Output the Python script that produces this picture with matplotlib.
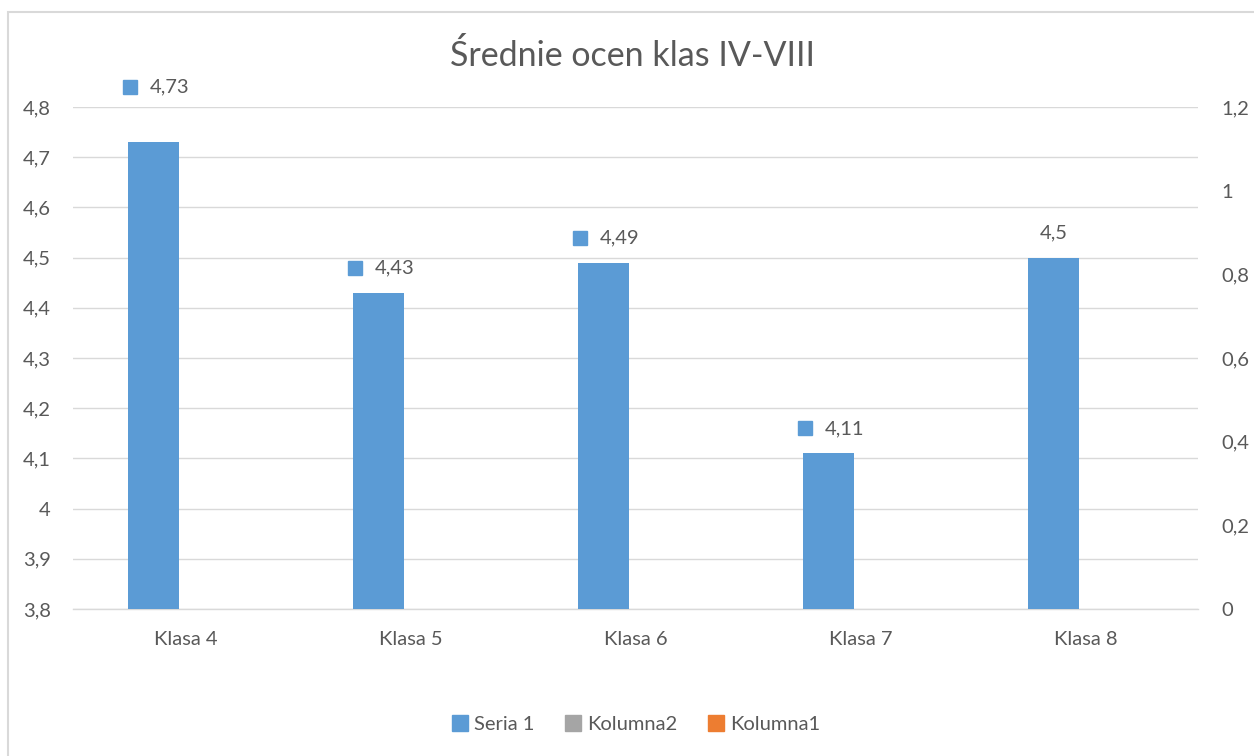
import matplotlib.pyplot as plt
from matplotlib.patches import Patch, Rectangle
from matplotlib.ticker import FuncFormatter, MultipleLocator
from matplotlib.transforms import offset_copy

plt.rcParams['font.family'] = ['Lato', 'DejaVu Sans']

# data
categories = ['Klasa 4', 'Klasa 5', 'Klasa 6', 'Klasa 7', 'Klasa 8']
seria1 = [4.73, 4.43, 4.49, 4.11, 4.5]
legend_names = ['Seria 1', 'Kolumna2', 'Kolumna1']

# label styling (lift above the bar in pixels, and whether a key square is shown)
label_lift = [55, 25, 25, 25, 25]
label_key = [True, True, True, True, False]

BLUE = '#5B9BD5'
GRAY = '#A5A5A5'
ORANGE = '#ED7D31'
TEXT = '#595959'
GRID = '#D9D9D9'
FS = 14.5

W, H = 1254, 756
fig = plt.figure(figsize=(W / 100, H / 100), dpi=100)
ax = fig.add_axes([73 / W, (H - 609) / H, (1198 - 73) / W, (609 - 107) / H])

x = list(range(len(categories)))
shift = -0.142
bw = 0.227
ax.bar([i + shift for i in x], seria1, width=bw, color=BLUE, zorder=3)

ax.set_xlim(-0.5, len(categories) - 0.5)
ax.set_ylim(3.8, 4.8)
ax.yaxis.set_major_locator(MultipleLocator(0.1))
fmt = FuncFormatter(lambda v, p: f"{round(v, 2):g}".replace('.', ','))
ax.yaxis.set_major_formatter(fmt)
ax.set_xticks(x)
ax.set_xticklabels(categories)
ax.grid(axis='y', color=GRID, lw=1.0, zorder=0)
for s in ['top', 'left', 'right']:
    ax.spines[s].set_visible(False)
ax.spines['bottom'].set_color(GRID)
ax.spines['bottom'].set_linewidth(1.0)
ax.tick_params(axis='y', length=0, pad=16, labelsize=FS, labelcolor=TEXT)
ax.tick_params(axis='x', length=0, pad=16, labelsize=FS, labelcolor=TEXT)

ax2 = ax.twinx()
ax2.set_ylim(0, 1.2)
ax2.yaxis.set_major_locator(MultipleLocator(0.2))
ax2.yaxis.set_major_formatter(fmt)
for s in ['top', 'left', 'right', 'bottom']:
    ax2.spines[s].set_visible(False)
ax2.tick_params(axis='y', length=0, pad=17, labelsize=FS, labelcolor=TEXT)

# data labels
for i, v in enumerate(seria1):
    bx = i + shift
    txt = f"{v:g}".replace('.', ',')
    if label_key[i]:
        tr = offset_copy(ax.transData, fig=fig, x=-23.5, y=label_lift[i], units='dots')
        ax.plot([bx], [v], marker='s', ms=10, color=BLUE, transform=tr,
                clip_on=False, zorder=4)
        ax.annotate(txt, (bx, v), xytext=(-3.5, label_lift[i]),
                    textcoords='offset pixels', ha='left', va='center',
                    fontsize=FS, color=TEXT, annotation_clip=False)
    else:
        ax.annotate(txt, (bx, v), xytext=(0, label_lift[i]),
                    textcoords='offset pixels', ha='center', va='center',
                    fontsize=FS, color=TEXT, annotation_clip=False)

fig.text(632 / W, 1 - 55 / H, 'Średnie ocen klas IV-VIII', ha='center', va='center',
         fontsize=24.5, color=TEXT)

handles = [Patch(color=c) for c in (BLUE, GRAY, ORANGE)]
fig.legend(handles, legend_names, loc='center', bbox_to_anchor=(636 / W, 1 - 724 / H),
           ncol=3, frameon=False, fontsize=FS, handlelength=0.8, handleheight=0.8,
           handletextpad=0.3, columnspacing=1.5, labelcolor=TEXT)

fig.patches.append(Rectangle((8 / W, -0.1), 2, 1.1 - 12 / H, transform=fig.transFigure,
                             fill=False, ec=GRID, lw=1.5))

fig.savefig('out.png', dpi=100)
